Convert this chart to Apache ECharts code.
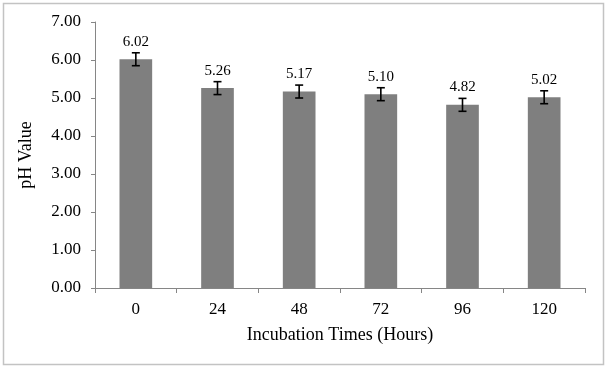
<!DOCTYPE html>
<html>
<head>
<meta charset="utf-8">
<script src="https://cdn.jsdelivr.net/npm/echarts@6/dist/echarts.min.js"></script>
<style>
html, body { margin: 0; padding: 0; background: #fff; }
#main { width: 608px; height: 368px; }
</style>
</head>
<body>
<div id="main"></div>
<script>
// data
var hours = ['0', '24', '48', '72', '96', '120'];
var phValues = [6.02, 5.26, 5.17, 5.10, 4.82, 5.02];
var phErrors = [0.17, 0.17, 0.17, 0.17, 0.17, 0.17];

var serif = '"Times New Roman", "Liberation Serif", serif';

var errData = phValues.map(function (v, i) {
    return [i, v - phErrors[i], v + phErrors[i]];
});

var myChart = echarts.init(document.getElementById('main'));

var option = {
    backgroundColor: '#fff',
    animation: false,
    graphic: [{
        type: 'rect',
        shape: { x: 3.5, y: 3.5, width: 600, height: 361 },
        style: { fill: 'none', stroke: '#c3c3c3', lineWidth: 1.5 },
        silent: true
    }],
    grid: { left: 95, right: 23, top: 22, bottom: 80 },
    xAxis: {
        type: 'category',
        data: hours,
        name: 'Incubation Times (Hours)',
        nameLocation: 'middle',
        nameGap: 38,
        nameTextStyle: { fontFamily: serif, fontSize: 18, color: '#000' },
        axisLine: { lineStyle: { color: '#868686', width: 1 } },
        axisTick: { show: true, length: 5, lineStyle: { color: '#868686' } },
        axisLabel: { fontFamily: serif, fontSize: 17, color: '#000', margin: 13 }
    },
    yAxis: {
        type: 'value',
        min: 0,
        max: 7,
        interval: 1,
        name: 'pH Value',
        nameLocation: 'middle',
        nameGap: 60,
        nameTextStyle: { fontFamily: serif, fontSize: 18, color: '#000' },
        axisLine: { show: true, lineStyle: { color: '#868686', width: 1 } },
        axisTick: { show: true, length: 4, lineStyle: { color: '#868686' } },
        splitLine: { show: false },
        axisLabel: {
            fontFamily: serif, fontSize: 17, color: '#000', margin: 14,
            formatter: function (v) { return v.toFixed(2); }
        }
    },
    series: [
        {
            name: 'pH',
            type: 'bar',
            data: phValues,
            barWidth: '40%',
            itemStyle: { color: '#7f7f7f' },
            label: {
                show: true,
                position: 'top',
                distance: 10,
                fontFamily: serif,
                fontSize: 15,
                color: '#000',
                formatter: function (p) { return p.value.toFixed(2); }
            }
        },
        {
            name: 'error',
            type: 'custom',
            data: errData,
            z: 5,
            renderItem: function (params, api) {
                var x = api.value(0);
                var lo = api.coord([x, api.value(1)]);
                var hi = api.coord([x, api.value(2)]);
                var cap = 4;
                var st = { stroke: '#000', lineWidth: 1.6 };
                return {
                    type: 'group',
                    children: [
                        { type: 'line', shape: { x1: hi[0], y1: hi[1], x2: lo[0], y2: lo[1] }, style: st },
                        { type: 'line', shape: { x1: hi[0] - cap, y1: hi[1], x2: hi[0] + cap, y2: hi[1] }, style: st },
                        { type: 'line', shape: { x1: lo[0] - cap, y1: lo[1], x2: lo[0] + cap, y2: lo[1] }, style: st }
                    ]
                };
            }
        }
    ]
};

myChart.setOption(option);
</script>
</body>
</html>
